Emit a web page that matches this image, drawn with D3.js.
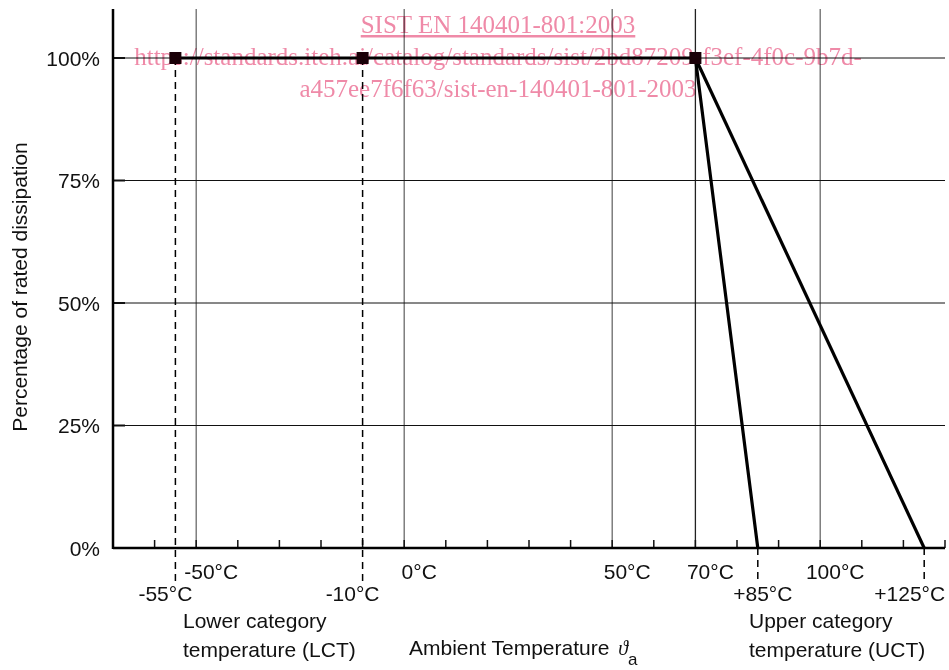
<!DOCTYPE html>
<html>
<head>
<meta charset="utf-8">
<script src="https://cdn.jsdelivr.net/npm/d3@7"></script>
<style>
  body { margin: 0; background: #fff; }
  text { font-family: "Liberation Sans", Arial, sans-serif; fill: #111; }
  .wm { font-family: "Liberation Serif", "Times New Roman", serif; fill: #ef8aa8; mix-blend-mode: multiply; }
</style>
</head>
<body>
<svg id="chart" width="949" height="670"></svg>
<script>
const SVG = d3.select('#chart');

// derating curve data
let upperCurve = [ { t: -55, p: 100 }, { t: 70, p: 100 }, { t: 85, p: 0 } ];
let lowerCurve = [ { t: 70, p: 100 }, { t: 125, p: 0 } ];
let markerTemps = [ -55, -10, 70 ];
let dashTop = [ -55, -10 ];      // dashed from 100% down
let dashBottom = [ 85, 125 ];    // dashed from 0% down
let gridTemps = [ -50, 0, 50, 70, 100 ];
let minorTemps = [ -60, -50, -40, -30, -20, -10, 0, 10, 20, 30, 40, 50, 60, 70, 80, 90, 100, 110, 120, 130 ];
let rowOneLabels = [ '-50°C', '0°C', '50°C', '70°C', '100°C' ];
let rowTwoLabels = [ '-55°C', '-10°C', '+85°C', '+125°C' ];
let yTicks = [ 0, 25, 50, 75, 100 ];
let watermark = [
    'SIST EN 140401-801:2003',
    'https://standards.iteh.ai/catalog/standards/sist/2bd87209-f3ef-4f0c-9b7d-',
    'a457ee7f6f63/sist-en-140401-801-2003'
];

const x = d3.scaleLinear().domain([-70, 130]).range([113, 945]);
const y = d3.scaleLinear().domain([0, 110]).range([548, 9]);

// vertical grid
SVG.append('g')
    .selectAll('line')
    .data(gridTemps)
    .join('line')
    .attr('x1', d => x(d)).attr('x2', d => x(d))
    .attr('y1', y(110)).attr('y2', y(0))
    .attr('stroke', d => d == 70 ? '#222' : '#6a6a6a')
    .attr('stroke-width', 1.3);

// horizontal grid
SVG.append('g')
    .selectAll('line')
    .data(yTicks.slice(1))
    .join('line')
    .attr('x1', x(-70)).attr('x2', x(130))
    .attr('y1', d => y(d)).attr('y2', d => y(d))
    .attr('stroke', '#111')
    .attr('stroke-width', 1);

// y tick marks
SVG.append('g')
    .selectAll('line')
    .data(yTicks)
    .join('line')
    .attr('x1', x(-70)).attr('x2', x(-70) + 12)
    .attr('y1', d => y(d)).attr('y2', d => y(d))
    .attr('stroke', '#111')
    .attr('stroke-width', 2);

// x minor ticks
SVG.append('g')
    .selectAll('line')
    .data(minorTemps)
    .join('line')
    .attr('x1', d => x(d)).attr('x2', d => x(d))
    .attr('y1', y(0)).attr('y2', y(0) - 8)
    .attr('stroke', '#111')
    .attr('stroke-width', 1.5);

// axes
SVG.append('line')
    .attr('x1', x(-70)).attr('x2', x(-70))
    .attr('y1', y(110)).attr('y2', y(0) + 1)
    .attr('stroke', '#000').attr('stroke-width', 2.5);
SVG.append('line')
    .attr('x1', x(-70)).attr('x2', x(130))
    .attr('y1', y(0)).attr('y2', y(0))
    .attr('stroke', '#000').attr('stroke-width', 2.5);

// dashed guides
SVG.append('g')
    .selectAll('line')
    .data(dashTop)
    .join('line')
    .attr('x1', d => x(d)).attr('x2', d => x(d))
    .attr('y1', y(100)).attr('y2', 584)
    .attr('stroke', '#000').attr('stroke-width', 1.5)
    .attr('stroke-dasharray', '7,5');
SVG.append('g')
    .selectAll('line')
    .data(dashBottom)
    .join('line')
    .attr('x1', d => x(d)).attr('x2', d => x(d))
    .attr('y1', y(0)).attr('y2', 584)
    .attr('stroke', '#000').attr('stroke-width', 1.5)
    .attr('stroke-dasharray', '7,5');

// curves
const line = d3.line().x(d => x(d.t)).y(d => y(d.p));
[upperCurve, lowerCurve].forEach(c => {
    SVG.append('path')
        .attr('d', line(c))
        .attr('fill', 'none')
        .attr('stroke', '#000')
        .attr('stroke-width', 3.2)
        .attr('stroke-linejoin', 'miter');
});

// markers
SVG.append('g')
    .selectAll('rect')
    .data(markerTemps)
    .join('rect')
    .attr('x', d => x(d) - 6).attr('y', y(100) - 6)
    .attr('width', 12).attr('height', 12)
    .attr('fill', '#1a0008');

// y labels
SVG.append('g')
    .selectAll('text')
    .data(yTicks)
    .join('text')
    .attr('x', 100)
    .attr('y', d => y(d) + 7.5)
    .attr('text-anchor', 'end')
    .attr('font-size', 21)
    .text(d => d + '%');

SVG.append('text')
    .attr('transform', 'translate(27,287) rotate(-90)')
    .attr('text-anchor', 'middle')
    .attr('font-size', 21)
    .text('Percentage of rated dissipation');

// x labels, first row
SVG.append('g')
    .selectAll('text')
    .data(gridTemps)
    .join('text')
    .attr('x', d => x(d) + 15)
    .attr('y', 579)
    .attr('text-anchor', 'middle')
    .attr('font-size', 21)
    .text((d, i) => rowOneLabels[i]);

// x labels, second row
let rowTwoOffset = [ -10, -10, 5, 21 ];
SVG.append('g')
    .selectAll('text')
    .data(dashTop.concat(dashBottom))
    .join('text')
    .attr('x', (d, i) => x(d) + rowTwoOffset[i])
    .attr('y', 601)
    .attr('text-anchor', (d, i) => i == 3 ? 'end' : 'middle')
    .attr('font-size', 21)
    .text((d, i) => rowTwoLabels[i]);

// category notes
function note(lines, left) {
    SVG.append('text')
        .attr('x', left).attr('y', 628)
        .attr('font-size', 21)
        .selectAll('tspan')
        .data(lines)
        .join('tspan')
        .attr('x', left)
        .attr('dy', (d, i) => i ? 29 : 0)
        .text(d => d);
}
note([ 'Lower category', 'temperature (LCT)' ], 183);
note([ 'Upper category', 'temperature (UCT)' ], 749);

let axisTitle = SVG.append('text')
    .attr('x', 409).attr('y', 655)
    .attr('font-size', 21);
axisTitle.append('tspan').text('Ambient Temperature ');
axisTitle.append('tspan')
    .attr('font-family', '"Liberation Serif", serif')
    .attr('font-style', 'italic')
    .attr('font-size', 20)
    .attr('dx', 3)
    .text('\u03D1');
axisTitle.append('tspan')
    .attr('dy', 10)
    .attr('font-size', 17)
    .text('a');

// watermark
SVG.append('g')
    .selectAll('text')
    .data(watermark)
    .join('text')
    .attr('class', 'wm')
    .attr('x', 498)
    .attr('y', (d, i) => 33 + i * 32)
    .attr('text-anchor', 'middle')
    .attr('font-size', 25)
    .attr('text-decoration', (d, i) => i == 0 ? 'underline' : null)
    .text(d => d);
</script>
</body>
</html>
